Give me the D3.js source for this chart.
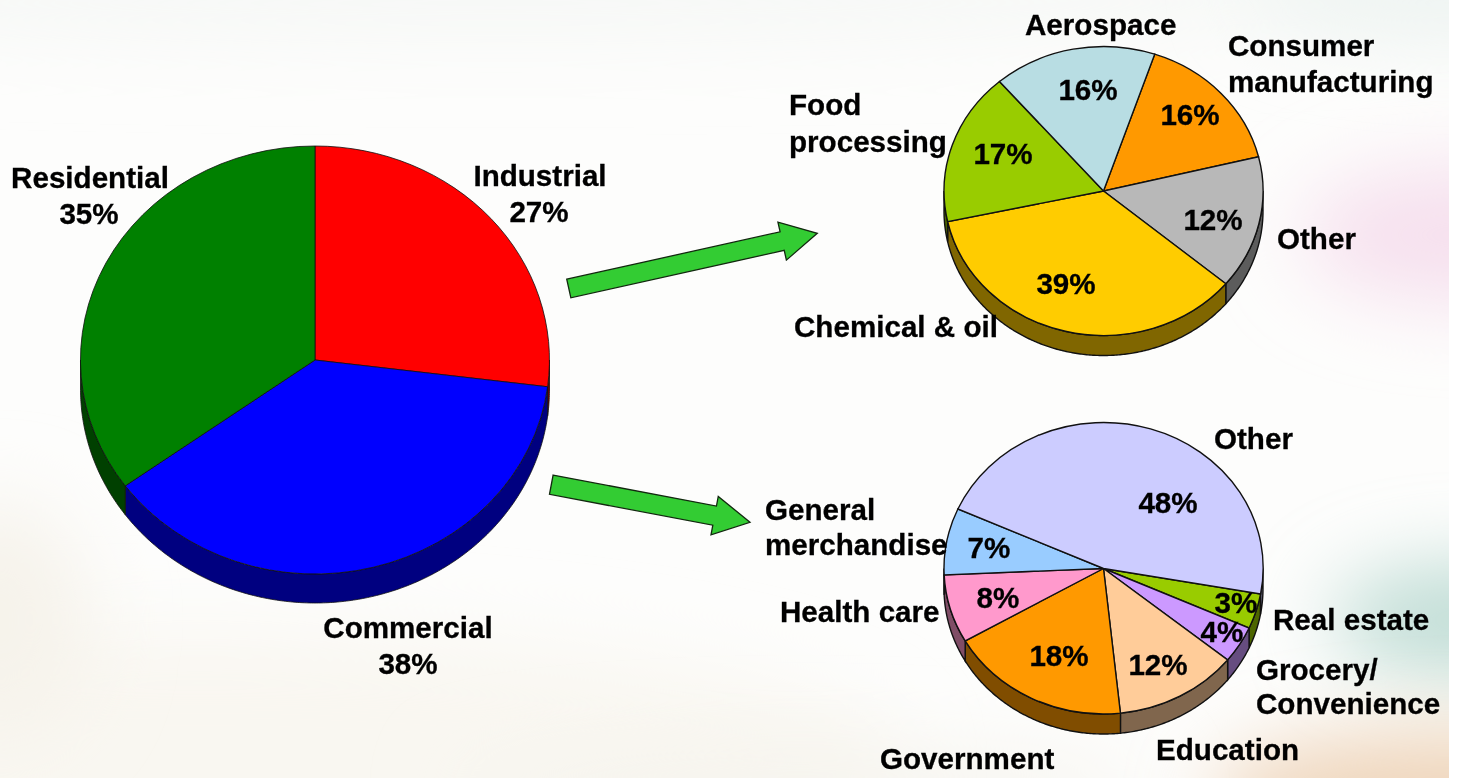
<!DOCTYPE html>
<html>
<head>
<meta charset="utf-8">
<script src="https://cdn.jsdelivr.net/npm/d3@7"></script>
<style>
  html, body { margin: 0; padding: 0; background: #fff; overflow: hidden; }
  svg { display: block; }
  text { font-family: "Liberation Sans", Arial, sans-serif; font-weight: bold; font-size: 29.6px; fill: #000; stroke: #000; stroke-width: 0.3px; }
  .edge { vector-effect: non-scaling-stroke; }
</style>
</head>
<body>
<svg id="chart" width="1457" height="778"></svg>
<script>
// Main split
const sectorNames = ['Industrial', 'Commercial', 'Residential'];
const sectorValues = [27, 38, 35];
const sectorColors = ['#ff0000', '#0000ff', '#008000'];

const industryNames = ['Consumer manufacturing', 'Other', 'Chemical & oil', 'Food processing', 'Aerospace'];
const industryShares = [16, 14.9, 35.5, 17.1, 16.5];
const industryPercents = ['16%', '12%', '39%', '17%', '16%'];
const industryColors = ['#ff9900', '#b8b8b8', '#ffcc00', '#99cc00', '#b8dde3'];

// Commercial breakdown
const commercialNames = ['Real estate', 'Grocery/Convenience', 'Education', 'Government', 'Health care', 'General merchandise', 'Other'];
const commercialShares = [3.9, 4.1, 12.5, 18.4, 7.6, 7.4, 46.1];
const commercialPercents = ['3%', '4%', '12%', '18%', '8%', '7%', '48%'];
const commercialColors = ['#99cc00', '#cc99ff', '#ffcc99', '#ff9900', '#ff99cc', '#99ccff', '#ccccff'];

const svg = d3.select('#chart');

// background wash, the picture stops a few px before the right edge
const defs = svg.append('defs');
const blur = defs.append('filter').attr('id', 'wash')
    .attr('filterUnits', 'userSpaceOnUse')
    .attr('x', -300).attr('y', -300).attr('width', 2100).attr('height', 1400);
blur.append('feGaussianBlur').attr('stdDeviation', 40);
defs.append('clipPath').attr('id', 'page').append('rect')
    .attr('width', 1449).attr('height', 778);

const bg = svg.append('g').attr('clip-path', 'url(#page)');
bg.append('rect').attr('width', 1449).attr('height', 778).attr('fill', '#fdfdfc');
const washes = [
    {cx: 500, cy: -10, rx: 1100, ry: 50, fill: '#f6f8f6'},
    {cx: 1449, cy: -10, rx: 200, ry: 50, fill: '#eef4f2'},
    {cx: 1470, cy: 235, rx: 170, ry: 70, fill: '#f6e0ee'},
    {cx: 1470, cy: 620, rx: 140, ry: 55, fill: '#bedcd4'},
    {cx: 1449, cy: 800, rx: 240, ry: 70, fill: '#efd6bc'},
    {cx: 200, cy: 760, rx: 700, ry: 130, fill: '#f9f7f1'},
    {cx: 0, cy: 620, rx: 90, ry: 120, fill: '#f6f3eb'},
    {cx: 800, cy: 790, rx: 350, ry: 40, fill: '#f6f4ee'}
];
bg.selectAll('ellipse').data(washes).join('ellipse')
    .attr('cx', d => d.cx).attr('cy', d => d.cy)
    .attr('rx', d => d.rx).attr('ry', d => d.ry)
    .attr('fill', d => d.fill)
    .attr('filter', 'url(#wash)');

const root = svg.append('g').style('filter', 'blur(0.4px)');

function drawPie(values, colors, opts) {
    const g = root.append('g');
    const pie = d3.pie().sort(null).startAngle(opts.start).endAngle(opts.start + 2 * Math.PI);
    const slices = pie(values);
    const arc = d3.arc().innerRadius(0).outerRadius(1);
    const sx = d3.scaleLinear().domain([-1, 1]).range([opts.cx - opts.rx, opts.cx + opts.rx]);
    const sy = d3.scaleLinear().domain([-1, 1]).range([opts.cy - opts.ry, opts.cy + opts.ry]);
    const line = d3.line();

    // side wall, only the part of the rim that faces down
    slices.forEach((s, i) => {
        const c = d3.rgb(colors[i]);
        const wall = d3.rgb(c.r * 0.5, c.g * 0.5, c.b * 0.5).formatHex();
        // walk both turns so slices that wrap past 360 still get their lower rim
        [0, 2 * Math.PI].forEach(shift => {
            const a0 = Math.max(s.startAngle - shift, Math.PI / 2);
            const a1 = Math.min(s.endAngle - shift, 3 * Math.PI / 2);
            if (a1 <= a0) return;
            const angles = d3.range(a0, a1, 0.01).concat([a1]);
            const rim = angles.map(a => [sx(Math.sin(a)), sy(-Math.cos(a))]);
            const lower = rim.map(p => [p[0], p[1] + opts.depth]).reverse();
            g.append('path')
                .attr('d', line(rim.concat(lower)) + 'Z')
                .attr('fill', wall)
                .attr('stroke', opts.stroke)
                .attr('stroke-width', opts.width);
        });
    });

    // top face: unit arcs squashed to the ellipse
    g.append('g')
        .attr('transform', `translate(${opts.cx},${opts.cy}) scale(${opts.rx},${opts.ry})`)
        .selectAll('path').data(slices).join('path')
        .attr('class', 'edge')
        .attr('d', arc)
        .attr('fill', (d, i) => colors[i])
        .attr('stroke', opts.stroke)
        .attr('stroke-width', opts.width);
}

const deg = Math.PI / 180;
drawPie(sectorValues, sectorColors, {cx: 315, cy: 360, rx: 234.5, ry: 214, depth: 29, start: 0, stroke: '#101010', width: 0.8});
drawPie(industryShares, industryColors, {cx: 1103.5, cy: 191, rx: 159.5, ry: 144.5, depth: 20, start: 18.7 * deg, stroke: '#111', width: 1.4});
drawPie(commercialShares, commercialColors, {cx: 1103.5, cy: 568.5, rx: 159.5, ry: 145.5, depth: 20, start: 100.1 * deg, stroke: '#111', width: 1.4});

// block arrows between the pies
function drawArrow(from, to, shaft, head, headLen) {
    const len = Math.hypot(to[0] - from[0], to[1] - from[1]);
    const outline = [
        [0, -shaft / 2], [len - headLen, -shaft / 2], [len - headLen, -head / 2],
        [len, 0], [len - headLen, head / 2], [len - headLen, shaft / 2], [0, shaft / 2]
    ];
    const angle = Math.atan2(to[1] - from[1], to[0] - from[0]) * 180 / Math.PI;
    root.append('path')
        .attr('d', d3.line()(outline) + 'Z')
        .attr('transform', `translate(${from[0]},${from[1]}) rotate(${angle})`)
        .attr('fill', '#33cc33')
        .attr('stroke', '#12280f')
        .attr('stroke-width', 1.3);
}
drawArrow([568.8, 288.5], [817.3, 233.3], 19, 39, 36);
drawArrow([551.3, 484.7], [750, 522.3], 19.5, 39, 36);

// text layout: [string, x, baseline, anchor]
const labelLayout = [
    ['Residential', 90, 188, 'middle'], ['35%', 89, 224, 'middle'],
    ['Industrial', 540, 186, 'middle'], ['27%', 539, 222, 'middle'],
    ['Commercial', 408, 638, 'middle'], ['38%', 408, 674, 'middle'],
    ['Aerospace', 1025, 35, 'start'],
    ['Consumer', 1228, 56, 'start'], ['manufacturing', 1228, 92, 'start'],
    ['Food', 789, 115, 'start'], ['processing', 789, 152, 'start'],
    ['Other', 1277, 249, 'start'],
    ['Chemical & oil', 794, 337, 'start'],
    ['Other', 1214, 449, 'start'],
    ['General', 765, 520, 'start'], ['merchandise', 765, 555, 'start'],
    ['Health care', 780, 622, 'start'],
    ['Real estate', 1273, 630, 'start'],
    ['Grocery/', 1256, 680, 'start'], ['Convenience', 1256, 714, 'start'],
    ['Education', 1156, 760, 'start'],
    ['Government', 880, 769, 'start']
];
const percentSpots = {
    industry: [[1190, 125], [1213, 230], [1066, 294], [1003, 164], [1088, 100]],
    commercial: [[1236, 613], [1222, 642], [1158, 675], [1059, 666], [998, 608], [989, 558], [1168, 513]]
};

root.append('g').selectAll('text').data(labelLayout).join('text')
    .attr('x', d => d[1]).attr('y', d => d[2])
    .attr('text-anchor', d => d[3])
    .text(d => d[0]);

[[industryPercents, percentSpots.industry], [commercialPercents, percentSpots.commercial]].forEach(([texts, spots]) => {
    root.append('g').selectAll('text').data(texts).join('text')
        .attr('x', (d, i) => spots[i][0]).attr('y', (d, i) => spots[i][1])
        .attr('text-anchor', 'middle')
        .text(d => d);
});
</script>
</body>
</html>
